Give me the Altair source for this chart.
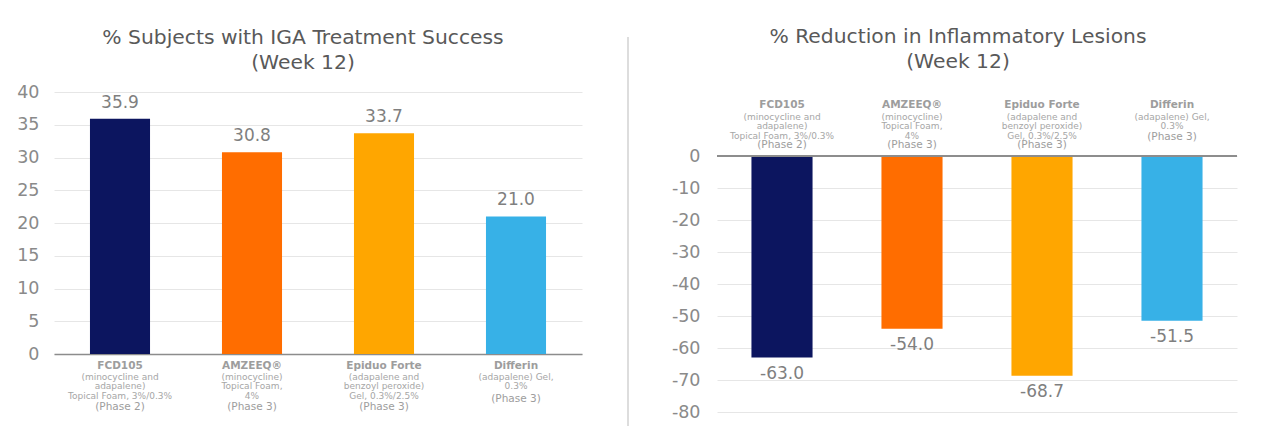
import altair as alt
import pandas as pd

drugs = ["FCD105", "AMZEEQ®", "Epiduo Forte", "Differin"]
descriptions = [
    "(minocycline and\nadapalene)\nTopical Foam, 3%/0.3%",
    "(minocycline)\nTopical Foam,\n4%",
    "(adapalene and\nbenzoyl peroxide)\nGel, 0.3%/2.5%",
    "(adapalene) Gel,\n0.3%",
]
description_lines = [3, 3, 3, 2]
phases = ["(Phase 2)", "(Phase 3)", "(Phase 3)", "(Phase 3)"]
iga_success = [35.9, 30.8, 33.7, 21.0]
lesion_reduction = [-63.0, -54.0, -68.7, -51.5]
bar_colors = ["#0c155f", "#ff6d00", "#ffa600", "#37b1e7"]
left_ticks = [0, 5, 10, 15, 20, 25, 30, 35, 40]
right_ticks = [0, -10, -20, -30, -40, -50, -60, -70, -80]
left_title = ["% Subjects with IGA Treatment Success", "(Week 12)"]
right_title = ["% Reduction in Inflammatory Lesions", "(Week 12)"]

FONT = "DejaVu Sans"
LABEL_GRAY = "#8a8a8a"
TEXT_GRAY = "#9d9d9d"

df = pd.DataFrame({
    "drug": drugs,
    "desc": descriptions,
    "nlines": description_lines,
    "phase": phases,
    "iga": iga_success,
    "lesions": lesion_reduction,
})

color = alt.Color("drug:N", scale=alt.Scale(domain=drugs, range=bar_colors), legend=None)


def label_layers(x, name_y, desc_top, phase_y3, phase_y2):
    base = alt.Chart(df)
    name = base.mark_text(font=FONT, fontSize=10.5, fontWeight="bold", color=TEXT_GRAY).encode(
        x=x, y=alt.value(name_y), text="drug:N")
    desc = base.mark_text(font=FONT, fontSize=9, color="#a6a6a6", baseline="top",
                          lineBreak="\n", lineHeight=9.5).encode(
        x=x, y=alt.value(desc_top), text="desc:N")
    ph3 = base.transform_filter("datum.nlines == 3").mark_text(
        font=FONT, fontSize=10.5, color=TEXT_GRAY).encode(
        x=x, y=alt.value(phase_y3), text="phase:N")
    ph2 = base.transform_filter("datum.nlines == 2").mark_text(
        font=FONT, fontSize=10.5, color=TEXT_GRAY).encode(
        x=x, y=alt.value(phase_y2), text="phase:N")
    return [name, desc, ph3, ph2]


def make_title(text, offset, dx):
    return alt.Title(text, fontSize=20.3, font=FONT, color="#595959", fontWeight="normal",
                     lineHeight=25, offset=offset, dx=dx, anchor="middle")


def y_axis(values, padding):
    return alt.Axis(values=values, title=None, domain=False, ticks=False,
                    labelOverlap=False, labelFlush=False, tickCount=len(values),
                    labelExpr="'' + datum.value",
                    labelFontSize=17.5, labelColor=LABEL_GRAY, labelFont=FONT,
                    labelPadding=padding, gridColor="#e6e6e6")


# ---------- left chart ----------
xl = alt.X("drug:N", sort=drugs, scale=alt.Scale(paddingInner=0.545, paddingOuter=0.2725),
           axis=alt.Axis(labels=False, ticks=False, title=None, domainColor="#8c8c8c",
                         domainWidth=1.5, grid=False))
yl_scale = alt.Scale(domain=[0, 40], nice=False)
yl = alt.Y("iga:Q", scale=yl_scale, axis=y_axis(left_ticks, 15))

bars_l = alt.Chart(df).mark_bar().encode(x=xl, y=yl, color=color)
vals_l = alt.Chart(df).transform_calculate(
    lab="format(datum.iga, '.1f')"
).mark_text(baseline="bottom", dy=-7, fontSize=17, color="#7f7f7f", font=FONT).encode(
    x=xl, y=yl, text="lab:N")

left = alt.layer(bars_l, vals_l, *label_layers(xl, 274, 280.5, 315, 307)).properties(
    width=528, height=262, title=make_title(left_title, 10, -15))

# ---------- divider ----------
divider = alt.Chart(pd.DataFrame({"d": [0]})).mark_rule(color="#dddddd", strokeWidth=2).encode(
    x=alt.value(46), y=alt.value(-55), y2=alt.value(334)).properties(width=135, height=262)

# ---------- right chart ----------
xr = alt.X("drug:N", sort=drugs, scale=alt.Scale(paddingInner=0.53, paddingOuter=0.265), axis=None)
yr_scale = alt.Scale(domain=[-80, 20], nice=False, zero=False)
yr = alt.Y("lesions:Q", scale=yr_scale, axis=y_axis(right_ticks, 17))

bars_r = alt.Chart(df).mark_bar().encode(x=xr, y=yr, color=color)
zero_r = alt.Chart(df).transform_calculate(z="0").mark_rule(
    color="#8c8c8c", strokeWidth=1.5).encode(
    y=alt.Y("z:Q", scale=yr_scale, axis=y_axis(right_ticks, 17)))
vals_r = alt.Chart(df).transform_calculate(
    lab="replace(format(datum.lesions, '.1f'), '\u2212', '-')"
).mark_text(baseline="top", dy=8, fontSize=17, color="#7f7f7f", font=FONT).encode(
    x=xr, y=yr, text="lab:N")

right = alt.layer(bars_r, zero_r, vals_r, *label_layers(xr, 13, 20.5, 53, 45)).properties(
    width=520, height=320, title=make_title(right_title, 20, -19))

chart = alt.hconcat(left, divider, right, spacing=0, bounds="flush").properties(
    padding={"left": 8, "top": 18, "right": 5, "bottom": 0},
    background="#ffffff",
).configure(view=alt.ViewConfig(stroke=None))

chart.save("out.html", embed_options={"renderer": "svg", "actions": False})
